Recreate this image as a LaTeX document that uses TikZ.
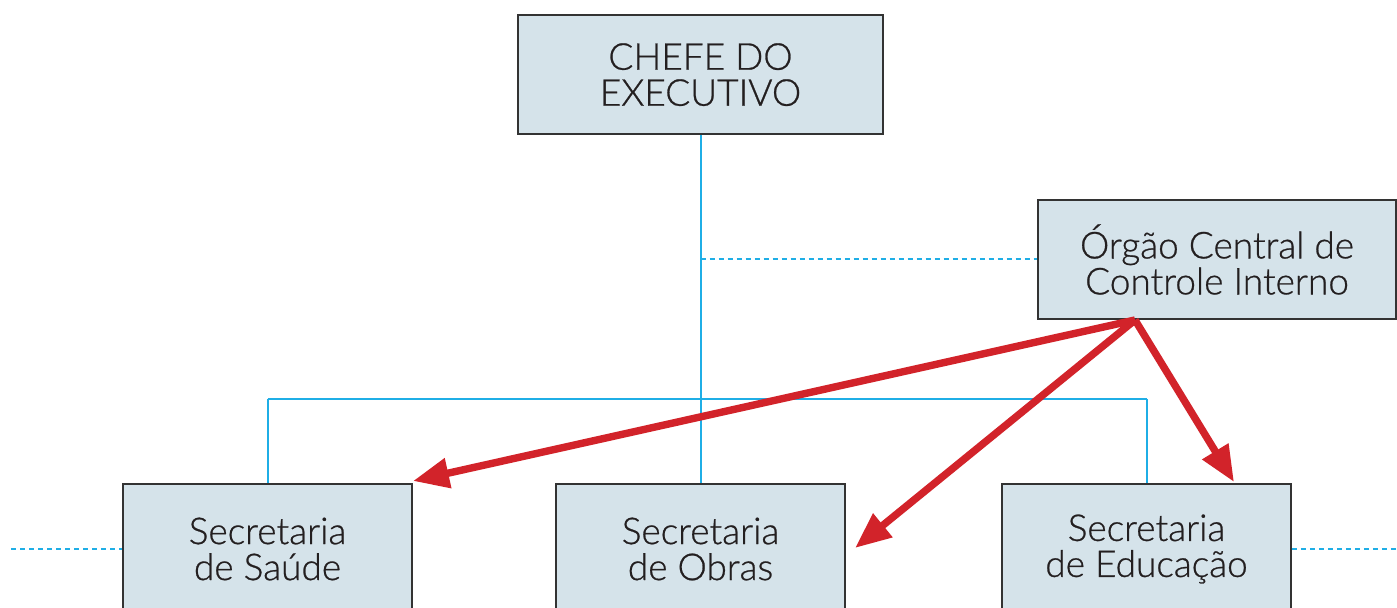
\documentclass[tikz,border=0pt]{standalone}
\usepackage{fontspec}
\setmainfont{Lato}[UprightFont={* Light}, FakeBold=0.7, UprightFeatures={FakeBold=0.7}]
\usetikzlibrary{arrows.meta}
\definecolor{boxfill}{HTML}{D5E3EA}
\definecolor{boxline}{HTML}{333333}
\definecolor{linkblue}{HTML}{1FAEE6}
\definecolor{arrowred}{HTML}{D2232A}
\definecolor{textdark}{HTML}{231F20}
\begin{document}
\begin{tikzpicture}[x=0.5pt,y=-0.5pt,
  orgbox/.style={draw=boxline, line width=0.75pt, fill=boxfill, align=center,
    inner sep=0pt, font=\fontsize{18.5pt}{18pt}\selectfont, text=textdark},
  link/.style={draw=linkblue, line width=1pt},
  dashlink/.style={link, dash pattern=on 2.5pt off 2pt},
  redarrow/.style={draw=arrowred, line width=3.7pt, -{Triangle[length=18pt,width=14.5pt]}}]
\useasboundingbox (0,0) rectangle (1397,608);
\begin{scope}
\clip (0,0) rectangle (1397,608);
% connector coordinates
\coordinate (busl) at (267.5,399);
\coordinate (busr) at (1146.5,399);
\coordinate (tap) at (700.5,259.5);
\coordinate (dl) at (11,549);
\coordinate (dr) at (1397,549);
% blue connectors (drawn first, boxes cover their ends)
\coordinate (chefebot) at (700.5,134);
\coordinate (obrastop) at (700.5,484);
\coordinate (saudetop) at (267.5,484);
\coordinate (eductop) at (1146.5,484);
\draw[link] (chefebot) -- (obrastop);
\draw[link] (busl) -- (busr);
\draw[link] (busl) -- (saudetop);
\draw[link] (busr) -- (eductop);
% boxes
\node[orgbox, minimum width=182.5pt, minimum height=59.5pt, text depth=0pt] (chefe) at (700.5,74.5) {CHEFE DO\\EXECUTIVO};
\node[orgbox, minimum width=179pt, minimum height=59.5pt] (orgao) at (1217,259.5) {Órgão Central de\\Controle Interno};
\node[orgbox, minimum width=144.5pt, minimum height=65pt] (saude) at (267.5,549) {Secretaria\\de Saúde};
\node[orgbox, minimum width=144.5pt, minimum height=65pt] (obras) at (700.5,549) {Secretaria\\de Obras};
\node[orgbox, minimum width=144.5pt, minimum height=65pt] (educ) at (1146.5,549) {Secretaria\\de Educação};
\draw[dashlink] (tap) -- (orgao.west);
\draw[dashlink] (dl) -- (saude.west);
\draw[dashlink] (educ.east) -- (dr);
% red arrows
\coordinate (src) at (1135,320);
\coordinate (tsaude) at (413,481);
\coordinate (tobras) at (855,548);
\coordinate (teduc) at (1234,482);
\draw[redarrow] (src) -- (tsaude);
\draw[redarrow] (src) -- (tobras);
\draw[redarrow] (src) -- (teduc);
\end{scope}
\end{tikzpicture}
\end{document}
